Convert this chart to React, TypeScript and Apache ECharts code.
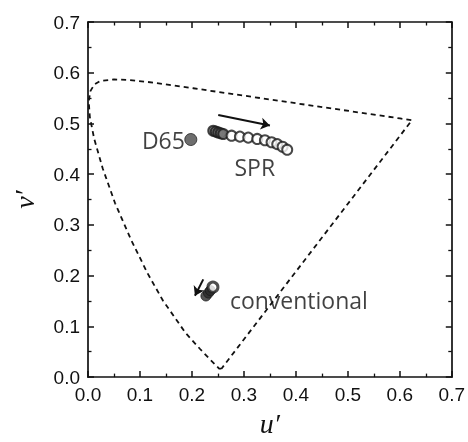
import React, { useEffect, useRef } from "react";
import * as echarts from "echarts";

// CIE 1976 spectral locus (u', v')
const locusU = [0.2568, 0.2522, 0.2347, 0.2161, 0.1877, 0.1441, 0.1147, 0.0828, 0.0521, 0.0282, 0.0119, 0.0035, 0.0014, 0.0046, 0.0123, 0.0231, 0.0501, 0.0792, 0.1127, 0.1531, 0.2026, 0.2623, 0.3315, 0.4035, 0.5203, 0.6005, 0.6234, 0.2568];
const locusV = [0.0166, 0.0169, 0.0350, 0.0549, 0.0871, 0.1510, 0.2044, 0.2708, 0.3427, 0.4117, 0.4698, 0.5130, 0.5431, 0.5638, 0.5770, 0.5837, 0.5868, 0.5856, 0.5821, 0.5766, 0.5694, 0.5604, 0.5501, 0.5393, 0.5219, 0.5099, 0.5065, 0.0166];

const d65U = [0.1978];
const d65V = [0.4683];

const sprU = [0.2410, 0.2458, 0.2506, 0.2554, 0.2602, 0.2763, 0.2923, 0.3083, 0.3256, 0.3404, 0.3532, 0.3641, 0.3744, 0.3833];
const sprV = [0.4855, 0.4840, 0.4823, 0.4808, 0.4792, 0.4759, 0.4740, 0.4721, 0.4695, 0.4669, 0.4630, 0.4592, 0.4541, 0.4483];
const sprGrayCount = 5;

const convDarkU = [0.2269, 0.2317, 0.2355];
const convDarkV = [0.1599, 0.1657, 0.1705];
const convOpenU = [0.2404];
const convOpenV = [0.1773];

const arrowSpr = [[0.2506, 0.5166], [0.3500, 0.4961]];
const arrowConv = [[0.2218, 0.1927], [0.2058, 0.1605]];

const textLabels = ["D65", "SPR", "conventional"];
const textU = [0.1865, 0.321, 0.273];
const textV = [0.468, 0.414, 0.152];

const tickValues = [0, 0.1, 0.2, 0.3, 0.4, 0.5, 0.6, 0.7];

const zip = (a: number[], b: number[]) => a.map((v, i) => [v, b[i]]);

export default function App() {
  const ref = useRef<HTMLDivElement>(null);
  useEffect(() => {
    if (!ref.current) return;
    const chart = echarts.init(ref.current, null, { renderer: "svg" });
    const ink = "#111";
    const axisCommon = (show: boolean) => ({
      type: "value" as const,
      min: tickValues[0],
      max: tickValues[tickValues.length - 1],
      interval: 0.1,
      axisLine: { show: true, onZero: false, lineStyle: { color: ink, width: 1.7 } },
      axisTick: { show: true, inside: true, length: 6, lineStyle: { color: ink, width: 1.5 } },
      minorTick: { show: true, splitNumber: 2, length: 3.5, lineStyle: { color: ink, width: 1.3 } },
      splitLine: { show: false },
      axisLabel: {
        show,
        color: ink,
        fontFamily: "Liberation Sans",
        fontSize: 19,
        margin: 8,
        formatter: (v: number) => v.toFixed(1),
      },
    });
    const aligns = ["right", "center", "left"];
    chart.setOption({
      animation: false,
      grid: { left: 88, right: 16, top: 22, bottom: 57 },
      xAxis: [
        {
          ...axisCommon(true),
          position: "bottom",
          name: "u\u2032",
          nameLocation: "middle",
          nameGap: 28,
          nameTextStyle: { fontFamily: "Liberation Serif", fontStyle: "italic", fontSize: 28, color: ink },
        },
        { ...axisCommon(false), position: "top" },
      ],
      yAxis: [
        {
          ...axisCommon(true),
          position: "left",
          name: "v\u2032",
          nameLocation: "middle",
          nameGap: 50,
          nameTextStyle: { fontFamily: "Liberation Serif", fontStyle: "italic", fontSize: 28, color: ink },
        },
        { ...axisCommon(false), position: "right" },
      ],
      series: [
        {
          type: "line",
          data: zip(locusU, locusV),
          symbol: "none",
          lineStyle: { color: ink, width: 1.8, type: [5, 4] },
          z: 1,
        },
        {
          type: "lines",
          coordinateSystem: "cartesian2d",
          data: [{ coords: arrowSpr }, { coords: arrowConv }],
          symbol: ["none", "arrow"],
          symbolSize: 9,
          lineStyle: { color: ink, width: 2, opacity: 1 },
          z: 3,
        },
        {
          type: "scatter",
          data: zip(d65U, d65V),
          symbol: "circle",
          symbolSize: 12,
          itemStyle: { color: "#4a4a4a", borderColor: "#222", borderWidth: 1 },
          z: 4,
        },
        {
          type: "scatter",
          data: zip(sprU, sprV).map((p, i) => ({
            value: p,
            itemStyle: { color: i < sprGrayCount ? "#7a7a7a" : "#fff" },
          })),
          symbol: "circle",
          symbolSize: 10,
          itemStyle: { borderColor: "#1a1a1a", borderWidth: 2 },
          z: 4,
        },
        {
          type: "scatter",
          data: zip(convDarkU, convDarkV),
          symbol: "circle",
          symbolSize: 10,
          itemStyle: { color: "#2a2a2a", borderColor: "#1a1a1a", borderWidth: 1 },
          z: 4,
        },
        {
          type: "scatter",
          data: zip(convOpenU, convOpenV),
          symbol: "circle",
          symbolSize: 10,
          itemStyle: { color: "#fff", borderColor: "#222", borderWidth: 3 },
          z: 5,
        },
        {
          type: "scatter",
          data: textLabels.map((t, i) => ({
            value: [textU[i], textV[i]],
            name: t,
            label: { align: aligns[i] },
          })),
          symbolSize: 0,
          silent: true,
          label: {
            show: true,
            position: "inside",
            formatter: (p: any) => p.name,
            fontFamily: "Open Sans",
            fontSize: 23,
            color: "#111",
            verticalAlign: "middle",
          },
          z: 6,
        },
      ],
    });
    return () => chart.dispose();
  }, []);
  return <div ref={ref} style={{ position: "fixed", left: 0, top: 0, width: 468, height: 442 }} />;
}
